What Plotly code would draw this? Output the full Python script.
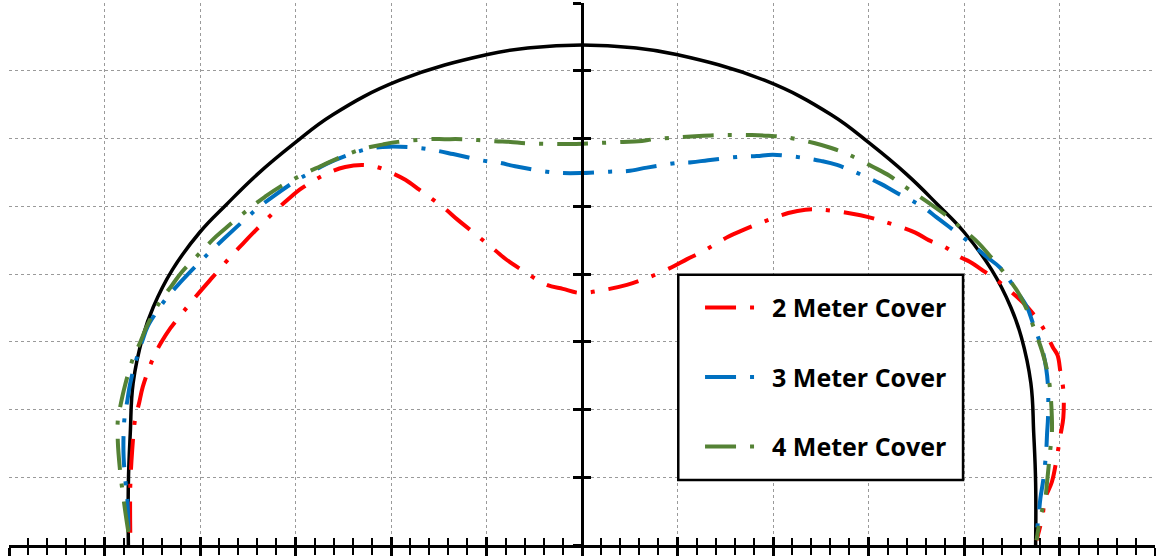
import plotly.graph_objects as go

# ---- Data (x in m from crown centre, y in plot units) ----
tunnel_x = [-4.75, -4.75, -4.73, -4.70, -4.60, -4.49, -4.29, -4.00, -3.72, -3.40, -3.01, -2.61,
            -1.91, -0.99, -0.54, 0.00, 0.54, 0.99, 1.91, 2.61, 3.01, 3.40, 3.72, 4.00,
            4.29, 4.49, 4.60, 4.70, 4.73, 4.75, 4.75]
tunnel_y = [0.00, 0.92, 1.65, 2.39, 3.07, 3.51, 4.06, 4.62, 5.03, 5.47, 5.93, 6.35,
            6.86, 7.24, 7.34, 7.38, 7.34, 7.24, 6.86, 6.35, 5.93, 5.47, 5.03, 4.62,
            4.06, 3.51, 3.07, 2.39, 1.65, 0.92, 0.00]

cover2_x = [-4.73, -4.73, -4.71, -4.68, -4.64, -4.60, -4.49, -4.41, -4.31, -4.13, -4.00, -3.87,
            -3.67, -3.55, -3.42, -3.22, -3.08, -2.93, -2.66, -2.48, -2.30, -2.15, -1.99, -1.85,
            -1.70, -1.44, -1.31, -1.17, -0.91, -0.79, -0.63, -0.37, -0.20, -0.02, 0.21, 0.47,
            0.68, 0.94, 1.10, 1.26, 1.53, 1.69, 1.86, 2.16, 2.34, 2.51, 2.83, 3.00, 3.17,
            3.49, 3.63, 3.80, 3.96, 4.06, 4.22, 4.38, 4.61, 4.72, 4.83, 4.93, 4.98, 5.01,
            5.04, 5.04, 5.01, 4.98, 4.92, 4.85, 4.82, 4.76]
cover2_y = [0.18, 0.86, 1.40, 1.85, 2.08, 2.33, 2.76, 2.98, 3.20, 3.52, 3.74, 3.95,
            4.27, 4.45, 4.64, 4.92, 5.10, 5.27, 5.49, 5.58, 5.61, 5.58, 5.49, 5.39,
            5.24, 4.97, 4.81, 4.65, 4.35, 4.21, 4.06, 3.84, 3.78, 3.72, 3.76, 3.84,
            3.94, 4.10, 4.22, 4.33, 4.55, 4.65, 4.75, 4.90, 4.95, 4.95, 4.89, 4.84, 4.77,
            4.61, 4.50, 4.40, 4.25, 4.18, 4.03, 3.87, 3.59, 3.42, 3.20, 2.92, 2.80, 2.55,
            2.29, 1.88, 1.62, 1.36, 0.93, 0.69, 0.41, 0.07]

cover3_x = [-4.75, -4.76, -4.78, -4.80, -4.80, -4.79, -4.76, -4.73, -4.65, -4.60, -4.55, -4.44,
            -4.34, -4.23, -4.00, -3.87, -3.75, -3.51, -3.38, -3.24, -2.98, -2.85, -2.67, -2.36,
            -2.19, -2.01, -1.70, -1.52, -1.35, -1.02, -0.86, -0.70, -0.37, -0.20, -0.02, 0.29,
            0.48, 0.68, 1.00, 1.15, 1.32, 1.65, 1.83, 2.00, 2.34, 2.50, 2.67, 2.98, 3.13,
            3.28, 3.57, 3.71, 3.85, 4.09, 4.24, 4.38, 4.56, 4.66, 4.72, 4.82, 4.86, 4.88,
            4.88, 4.87, 4.86, 4.83, 4.80, 4.78, 4.75]
cover3_y = [0.22, 0.66, 0.93, 1.30, 1.65, 1.88, 2.14, 2.39, 2.82, 3.03, 3.22, 3.47,
            3.66, 3.84, 4.18, 4.36, 4.52, 4.83, 4.99, 5.14, 5.39, 5.49, 5.63, 5.80,
            5.86, 5.88, 5.86, 5.82, 5.77, 5.67, 5.64, 5.59, 5.51, 5.49, 5.49, 5.51,
            5.52, 5.57, 5.64, 5.65, 5.68, 5.73, 5.74, 5.76, 5.71, 5.67, 5.61, 5.43, 5.33,
            5.21, 4.99, 4.84, 4.69, 4.43, 4.25, 4.09, 3.73, 3.51, 3.28, 2.88, 2.61, 2.33,
            1.89, 1.65, 1.37, 0.96, 0.69, 0.41, 0.07]

cover4_x = [-4.75, -4.78, -4.82, -4.84, -4.86, -4.86, -4.83, -4.79, -4.70, -4.63, -4.55, -4.42,
            -4.30, -4.19, -3.98, -3.85, -3.72, -3.48, -3.32, -3.16, -2.88, -2.74, -2.57, -2.29,
            -2.09, -1.93, -1.61, -1.44, -1.26, -0.91, -0.75, -0.58, -0.25, -0.09, 0.11, 0.43,
            0.59, 0.76, 1.03, 1.27, 1.45, 1.78, 1.95, 2.13, 2.44, 2.61, 2.78, 3.05, 3.22,
            3.36, 3.62, 3.78, 3.91, 4.15, 4.27, 4.38, 4.57, 4.65, 4.72, 4.82, 4.87, 4.90,
            4.92, 4.92, 4.90, 4.87, 4.85, 4.80, 4.76]
cover4_y = [0.19, 0.47, 0.89, 1.14, 1.51, 1.85, 2.08, 2.33, 2.76, 2.98, 3.25, 3.59,
            3.82, 4.03, 4.34, 4.53, 4.69, 4.97, 5.14, 5.29, 5.50, 5.59, 5.70, 5.85,
            5.91, 5.95, 5.99, 5.99, 5.99, 5.96, 5.95, 5.93, 5.92, 5.92, 5.93, 5.95,
            5.96, 5.99, 6.02, 6.04, 6.05, 6.05, 6.04, 6.02, 5.93, 5.86, 5.77, 5.58, 5.45,
            5.31, 5.06, 4.90, 4.75, 4.46, 4.27, 4.09, 3.72, 3.50, 3.25, 2.85, 2.58, 2.32,
            1.89, 1.64, 1.36, 0.93, 0.68, 0.41, 0.07]

series_names = ["2 Meter Cover", "3 Meter Cover", "4 Meter Cover"]
series_colors = ["#FF0000", "#0070C0", "#548235"]

X_RANGE = [-6, 6]
Y_RANGE = [0, 8]

DASH = "31px,14px,4px,14px"

fig = go.Figure()

fig.add_trace(go.Scatter(x=tunnel_x, y=tunnel_y, mode="lines",
                         line=dict(color="black", width=3.5, shape="spline", smoothing=1.2),
                         showlegend=False, hoverinfo="skip"))

for i, (xs, ys) in enumerate([(cover2_x, cover2_y), (cover3_x, cover3_y), (cover4_x, cover4_y)]):
    fig.add_trace(go.Scatter(x=xs, y=ys, mode="lines", name=series_names[i],
                             legendgroup=f"g{i}",
                             line=dict(color=series_colors[i], width=4, dash=DASH,
                                       shape="spline", smoothing=1)))

# invisible trace to materialise the overlay axes (for crossing ticks)
fig.add_trace(go.Scatter(x=[None], y=[None], xaxis="x2", yaxis="y2",
                         showlegend=False, hoverinfo="skip"))

grid = dict(showgrid=True, gridcolor="#9a9a9a", gridwidth=1, griddash="dot")

# legend frame (white box with black border)
fig.add_shape(type="rect", xref="paper", yref="paper",
              x0=0.584, x1=0.8325, y0=0.120, y1=0.4985,
              line=dict(color="black", width=2.5), fillcolor="white", layer="above")

fig.update_layout(
    width=1156, height=556,
    margin=dict(l=9, r=1, t=3, b=11),
    paper_bgcolor="white", plot_bgcolor="white",
    xaxis=dict(range=X_RANGE, dtick=1, tick0=0, showticklabels=False,
               ticks="outside", ticklen=8, tickwidth=2.5, tickcolor="black",
               minor=dict(dtick=0.2, ticks="outside", ticklen=7, tickwidth=2, tickcolor="black"),
               showline=True, linecolor="black", linewidth=3, zeroline=False, **grid),
    yaxis=dict(range=Y_RANGE, dtick=1, tick0=0, showticklabels=False,
               anchor="free", position=0.5,
               ticks="outside", ticklen=8, tickwidth=2.5, tickcolor="black",
               showline=True, linecolor="black", linewidth=3, zeroline=False, **grid),
    xaxis2=dict(range=X_RANGE, overlaying="x", anchor="y", side="bottom", dtick=1, tick0=0,
                showticklabels=False, showgrid=False, zeroline=False, showline=False,
                ticks="inside", ticklen=8, tickwidth=2.5, tickcolor="black",
                minor=dict(dtick=0.2, ticks="inside", ticklen=7, tickwidth=2, tickcolor="black")),
    yaxis2=dict(range=Y_RANGE, overlaying="y", anchor="free", position=0.5, side="left",
                dtick=1, tick0=0, showticklabels=False, showgrid=False, zeroline=False,
                showline=False, ticks="inside", ticklen=8, tickwidth=2.5, tickcolor="black"),
    legend=dict(x=0.603, y=0.480, xanchor="left", yanchor="top",
                bgcolor="rgba(0,0,0,0)", borderwidth=0,
                font=dict(family="Open Sans", size=25, color="black", weight="bold"),
                tracegroupgap=34, itemwidth=62),
    showlegend=True,
)

fig.write_html("out.html", config={"displayModeBar": False},
               post_script="document.body.style.margin='0';")
